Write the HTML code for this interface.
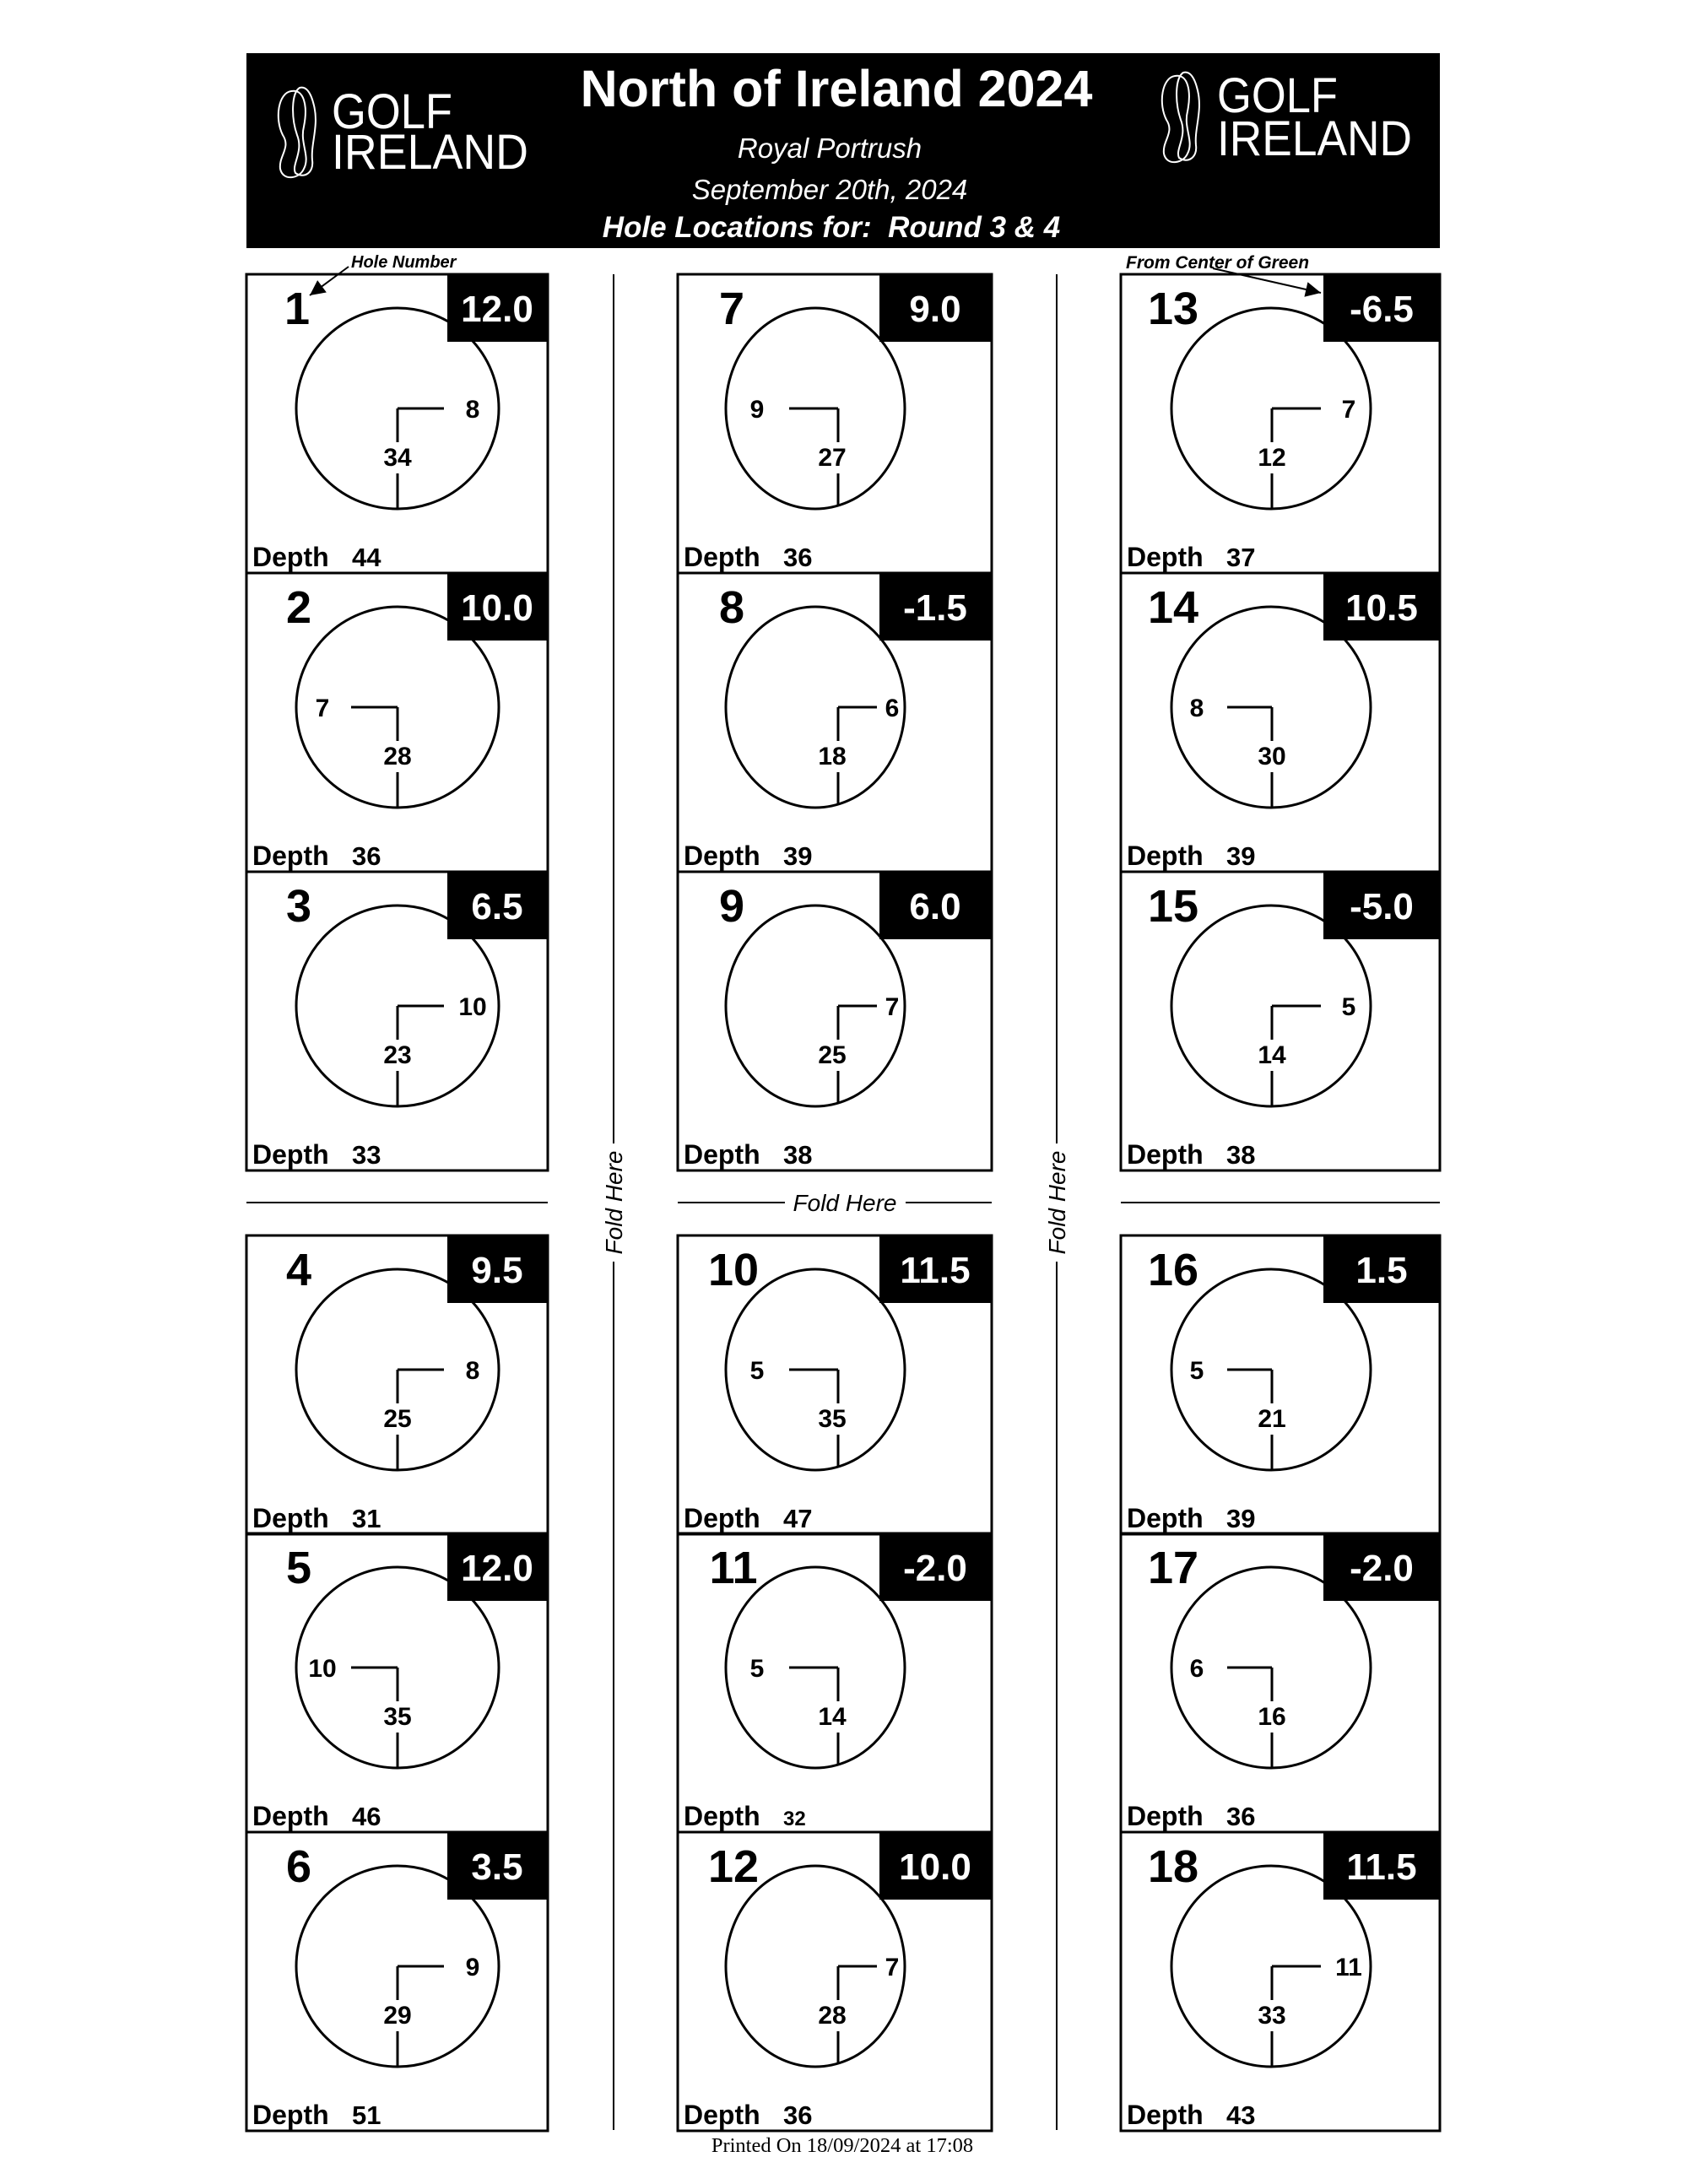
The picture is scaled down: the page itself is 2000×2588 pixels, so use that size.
<!DOCTYPE html>
<html><head><meta charset="utf-8"><style>
html,body{margin:0;padding:0;background:#fff}
svg{display:block}
text{font-family:"Liberation Sans",Arial,sans-serif}
.hn{font-size:54px;font-weight:bold;text-anchor:middle}
.val{font-size:44px;font-weight:bold;fill:#fff;text-anchor:middle}
.lab{font-size:30px;font-weight:bold;text-anchor:middle}
.dep{font-size:32px;font-weight:bold}
.dn{font-size:31px;font-weight:bold}
</style></head><body>
<svg width="2000" height="2588" viewBox="0 0 2000 2588" xmlns="http://www.w3.org/2000/svg">
<defs>
<marker id="ah2" viewBox="0 0 10 10" markerWidth="22" markerHeight="18" refX="10" refY="5" orient="auto" markerUnits="userSpaceOnUse"><path d="M0,0 L10,5 L0,10 z"/></marker>
<g id="b1"><rect x="0" y="0" width="357" height="354" fill="none" stroke="#000" stroke-width="3"/><rect x="238" y="0" width="119" height="80" fill="#000"/><ellipse cx="179" cy="159" rx="120" ry="119" fill="none" stroke="#000" stroke-width="3"/><line x1="179" y1="159" x2="179" y2="199" stroke="#000" stroke-width="3"/><line x1="179" y1="236" x2="179" y2="278" stroke="#000" stroke-width="3"/><text class="dep" x="7" y="346">Depth</text></g>
<g id="b2"><rect x="0" y="0" width="372" height="354" fill="none" stroke="#000" stroke-width="3"/><rect x="239" y="0" width="133" height="80" fill="#000"/><ellipse cx="163" cy="159" rx="106" ry="119" fill="none" stroke="#000" stroke-width="3"/><line x1="190" y1="159" x2="190" y2="199" stroke="#000" stroke-width="3"/><line x1="190" y1="236" x2="190" y2="275" stroke="#000" stroke-width="3"/><text class="dep" x="7" y="346">Depth</text></g>
<g id="b3"><rect x="0" y="0" width="378" height="354" fill="none" stroke="#000" stroke-width="3"/><rect x="240" y="0" width="138" height="80" fill="#000"/><ellipse cx="178" cy="159" rx="118" ry="119" fill="none" stroke="#000" stroke-width="3"/><line x1="179" y1="159" x2="179" y2="199" stroke="#000" stroke-width="3"/><line x1="179" y1="236" x2="179" y2="278" stroke="#000" stroke-width="3"/><text class="dep" x="7" y="346">Depth</text></g>
</defs>

<!-- header -->
<rect x="292" y="63" width="1414" height="231" fill="#000"/>
<g fill="none" stroke="#fff" stroke-width="2">
<path d="M345,108 C330,110 325,140 335,160 C345,175 330,185 332,200 C335,215 355,212 360,200 C368,185 355,170 360,150 C365,125 360,105 345,108 Z"/>
<path d="M355,104 C345,110 345,140 352,160 C360,180 345,195 350,205 C360,212 372,205 370,190 C368,170 378,150 372,125 C368,108 362,102 355,104 Z"/>
<path d="M1392,90 C1377,92 1372,122 1382,142 C1392,157 1377,167 1379,182 C1382,197 1402,194 1407,182 C1415,167 1402,152 1407,132 C1412,107 1407,87 1392,90 Z"/>
<path d="M1402,86 C1392,92 1392,122 1399,142 C1407,162 1392,177 1397,187 C1407,194 1419,187 1417,172 C1415,152 1425,132 1419,107 C1415,90 1409,84 1402,86 Z"/>
</g>
<g fill="#fff">
<text x="393" y="152" font-size="58" textLength="143" lengthAdjust="spacingAndGlyphs">GOLF</text>
<text x="393" y="200" font-size="58" textLength="233" lengthAdjust="spacingAndGlyphs">IRELAND</text>
<text x="1442" y="133" font-size="58" textLength="143" lengthAdjust="spacingAndGlyphs">GOLF</text>
<text x="1442" y="184" font-size="58" textLength="231" lengthAdjust="spacingAndGlyphs">IRELAND</text>
<text x="991" y="126" font-size="61" font-weight="bold" text-anchor="middle">North of Ireland 2024</text>
<text x="983" y="187" font-size="33" font-style="italic" text-anchor="middle">Royal Portrush</text>
<text x="983" y="236" font-size="33" font-style="italic" text-anchor="middle">September 20th, 2024</text>
<text x="985" y="281" font-size="35" font-weight="bold" font-style="italic" text-anchor="middle" xml:space="preserve">Hole Locations for:  Round 3 &amp; 4</text>
</g>

<!-- annotations -->
<text x="416" y="317" font-size="20" font-weight="bold" font-style="italic">Hole Number</text>
<line x1="413" y1="316" x2="367" y2="350" stroke="#000" stroke-width="2" marker-end="url(#ah2)"/>
<text x="1334" y="318" font-size="21" font-weight="bold" font-style="italic">From Center of Green</text>
<line x1="1437" y1="318" x2="1565" y2="347" stroke="#000" stroke-width="2" marker-end="url(#ah2)"/>

<!-- fold lines -->
<g stroke="#000" stroke-width="2">
<line x1="727" y1="325" x2="727" y2="1355"/><line x1="727" y1="1495" x2="727" y2="2524"/>
<line x1="1252" y1="325" x2="1252" y2="1355"/><line x1="1252" y1="1495" x2="1252" y2="2524"/>
<line x1="292" y1="1425" x2="649" y2="1425"/>
<line x1="803" y1="1425" x2="930" y2="1425"/><line x1="1073" y1="1425" x2="1175" y2="1425"/>
<line x1="1328" y1="1425" x2="1706" y2="1425"/>
</g>
<text x="0" y="0" font-size="28" font-style="italic" text-anchor="middle" transform="translate(737,1425) rotate(-90)">Fold Here</text>
<text x="0" y="0" font-size="28" font-style="italic" text-anchor="middle" transform="translate(1262,1425) rotate(-90)">Fold Here</text>
<text x="1001" y="1435" font-size="28" font-style="italic" text-anchor="middle">Fold Here</text>
<text x="998" y="2550" font-size="24.5" text-anchor="middle" style="font-family:'Liberation Serif',serif">Printed On 18/09/2024 at 17:08</text>

<!-- Column 1 -->
<g transform="translate(292,325)"><use href="#b1"/><text class="hn" x="60" y="59">1</text><text class="val" x="297" y="56">12.0</text><line x1="179" y1="159" x2="234" y2="159" stroke="#000" stroke-width="3"/><text class="lab" x="268" y="170">8</text><text class="lab" x="179" y="227">34</text><text class="dn" x="125" y="346">44</text></g>
<g transform="translate(292,679)"><use href="#b1"/><text class="hn" x="62" y="59">2</text><text class="val" x="297" y="56">10.0</text><line x1="124" y1="159" x2="179" y2="159" stroke="#000" stroke-width="3"/><text class="lab" x="90" y="170">7</text><text class="lab" x="179" y="227">28</text><text class="dn" x="125" y="346">36</text></g>
<g transform="translate(292,1033)"><use href="#b1"/><text class="hn" x="62" y="59">3</text><text class="val" x="297" y="56">6.5</text><line x1="179" y1="159" x2="234" y2="159" stroke="#000" stroke-width="3"/><text class="lab" x="268" y="170">10</text><text class="lab" x="179" y="227">23</text><text class="dn" x="125" y="346">33</text></g>
<g transform="translate(292,1464)"><use href="#b1"/><text class="hn" x="62" y="59">4</text><text class="val" x="297" y="56">9.5</text><line x1="179" y1="159" x2="234" y2="159" stroke="#000" stroke-width="3"/><text class="lab" x="268" y="170">8</text><text class="lab" x="179" y="227">25</text><text class="dn" x="125" y="346">31</text></g>
<g transform="translate(292,1817)"><use href="#b1"/><text class="hn" x="62" y="59">5</text><text class="val" x="297" y="56">12.0</text><line x1="124" y1="159" x2="179" y2="159" stroke="#000" stroke-width="3"/><text class="lab" x="90" y="170">10</text><text class="lab" x="179" y="227">35</text><text class="dn" x="125" y="346">46</text></g>
<g transform="translate(292,2171)"><use href="#b1"/><text class="hn" x="62" y="59">6</text><text class="val" x="297" y="56">3.5</text><line x1="179" y1="159" x2="234" y2="159" stroke="#000" stroke-width="3"/><text class="lab" x="268" y="170">9</text><text class="lab" x="179" y="227">29</text><text class="dn" x="125" y="346">51</text></g>

<!-- Column 2 -->
<g transform="translate(803,325)"><use href="#b2"/><text class="hn" x="64" y="59">7</text><text class="val" x="305" y="56">9.0</text><line x1="132" y1="159" x2="190" y2="159" stroke="#000" stroke-width="3"/><text class="lab" x="94" y="170">9</text><text class="lab" x="183" y="227">27</text><text class="dn" x="125" y="346">36</text></g>
<g transform="translate(803,679)"><use href="#b2"/><text class="hn" x="64" y="59">8</text><text class="val" x="305" y="56">-1.5</text><line x1="190" y1="159" x2="236" y2="159" stroke="#000" stroke-width="3"/><text class="lab" x="254" y="170">6</text><text class="lab" x="183" y="227">18</text><text class="dn" x="125" y="346">39</text></g>
<g transform="translate(803,1033)"><use href="#b2"/><text class="hn" x="64" y="59">9</text><text class="val" x="305" y="56">6.0</text><line x1="190" y1="159" x2="236" y2="159" stroke="#000" stroke-width="3"/><text class="lab" x="254" y="170">7</text><text class="lab" x="183" y="227">25</text><text class="dn" x="125" y="346">38</text></g>
<g transform="translate(803,1464)"><use href="#b2"/><text class="hn" x="66" y="59">10</text><text class="val" x="305" y="56">11.5</text><line x1="132" y1="159" x2="190" y2="159" stroke="#000" stroke-width="3"/><text class="lab" x="94" y="170">5</text><text class="lab" x="183" y="227">35</text><text class="dn" x="125" y="346">47</text></g>
<g transform="translate(803,1817)"><use href="#b2"/><text class="hn" x="66" y="59">11</text><text class="val" x="305" y="56">-2.0</text><line x1="132" y1="159" x2="190" y2="159" stroke="#000" stroke-width="3"/><text class="lab" x="94" y="170">5</text><text class="lab" x="183" y="227">14</text><text class="dn" x="125" y="346" style="font-size:24px">32</text></g>
<g transform="translate(803,2171)"><use href="#b2"/><text class="hn" x="66" y="59">12</text><text class="val" x="305" y="56">10.0</text><line x1="190" y1="159" x2="236" y2="159" stroke="#000" stroke-width="3"/><text class="lab" x="254" y="170">7</text><text class="lab" x="183" y="227">28</text><text class="dn" x="125" y="346">36</text></g>

<!-- Column 3 -->
<g transform="translate(1328,325)"><use href="#b3"/><text class="hn" x="62" y="59">13</text><text class="val" x="309" y="56">-6.5</text><line x1="179" y1="159" x2="237" y2="159" stroke="#000" stroke-width="3"/><text class="lab" x="270" y="170">7</text><text class="lab" x="179" y="227">12</text><text class="dn" x="125" y="346">37</text></g>
<g transform="translate(1328,679)"><use href="#b3"/><text class="hn" x="62" y="59">14</text><text class="val" x="309" y="56">10.5</text><line x1="126" y1="159" x2="179" y2="159" stroke="#000" stroke-width="3"/><text class="lab" x="90" y="170">8</text><text class="lab" x="179" y="227">30</text><text class="dn" x="125" y="346">39</text></g>
<g transform="translate(1328,1033)"><use href="#b3"/><text class="hn" x="62" y="59">15</text><text class="val" x="309" y="56">-5.0</text><line x1="179" y1="159" x2="237" y2="159" stroke="#000" stroke-width="3"/><text class="lab" x="270" y="170">5</text><text class="lab" x="179" y="227">14</text><text class="dn" x="125" y="346">38</text></g>
<g transform="translate(1328,1464)"><use href="#b3"/><text class="hn" x="62" y="59">16</text><text class="val" x="309" y="56">1.5</text><line x1="126" y1="159" x2="179" y2="159" stroke="#000" stroke-width="3"/><text class="lab" x="90" y="170">5</text><text class="lab" x="179" y="227">21</text><text class="dn" x="125" y="346">39</text></g>
<g transform="translate(1328,1817)"><use href="#b3"/><text class="hn" x="62" y="59">17</text><text class="val" x="309" y="56">-2.0</text><line x1="126" y1="159" x2="179" y2="159" stroke="#000" stroke-width="3"/><text class="lab" x="90" y="170">6</text><text class="lab" x="179" y="227">16</text><text class="dn" x="125" y="346">36</text></g>
<g transform="translate(1328,2171)"><use href="#b3"/><text class="hn" x="62" y="59">18</text><text class="val" x="309" y="56">11.5</text><line x1="179" y1="159" x2="237" y2="159" stroke="#000" stroke-width="3"/><text class="lab" x="270" y="170">11</text><text class="lab" x="179" y="227">33</text><text class="dn" x="125" y="346">43</text></g>
</svg>
</body></html>
